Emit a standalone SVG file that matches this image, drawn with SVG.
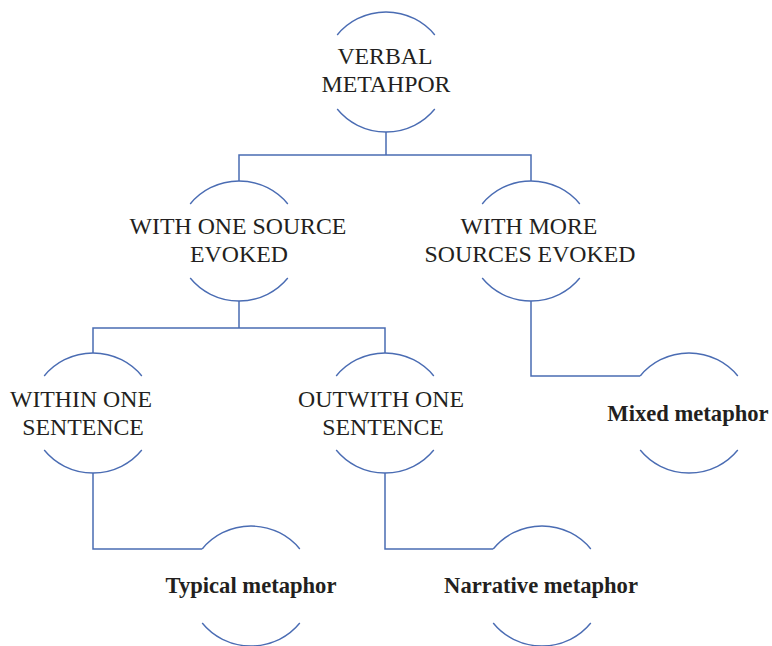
<svg xmlns="http://www.w3.org/2000/svg" width="772" height="646" viewBox="0 0 772 646">
<style>
.arc{fill:none;stroke:#4a6cb3;stroke-width:1.4}
.con{fill:none;stroke:#4a6cb3;stroke-width:1.5}
.t{font-family:"Liberation Serif",serif;font-size:23.8px;fill:#231f20;text-anchor:middle}
.b{font-family:"Liberation Serif",serif;font-size:22.6px;font-weight:bold;fill:#231f20;text-anchor:middle}
</style>
<rect width="772" height="646" fill="#ffffff"/>
<g id="connectors">
<path class="con" d="M386,132 V155 M239,181 V155 H531 V181"/>
<path class="con" d="M239,301 V328 M93,353 V328 H385 V353"/>
<path class="con" d="M93,473 V549 H202"/>
<path class="con" d="M385,473 V549 H493"/>
<path class="con" d="M531,301 V376 H640"/>
</g>
<g id="verbal-metaphor">
<path class="arc" d="M337.2,35 A62 60 0 0 1 434.8,35 M337.2,109 A62 60 0 0 0 434.8,109"/>
<text class="t" x="385" y="64">VERBAL</text>
<text class="t" x="386" y="92">METAHPOR</text>
</g>
<g id="one-source">
<path class="arc" d="M190.2,204 A62 60 0 0 1 287.8,204 M190.2,278 A62 60 0 0 0 287.8,278"/>
<text class="t" x="238" y="234">WITH ONE SOURCE</text>
<text class="t" x="239" y="262">EVOKED</text>
</g>
<g id="more-sources">
<path class="arc" d="M482.2,204 A62 60 0 0 1 579.8,204 M482.2,278 A62 60 0 0 0 579.8,278"/>
<text class="t" x="529" y="234">WITH MORE</text>
<text class="t" x="530" y="262">SOURCES EVOKED</text>
</g>
<g id="within-one-sentence">
<path class="arc" d="M44.2,376 A62 60 0 0 1 141.8,376 M44.2,450 A62 60 0 0 0 141.8,450"/>
<text class="t" x="81" y="407">WITHIN ONE</text>
<text class="t" x="83" y="435">SENTENCE</text>
</g>
<g id="outwith-one-sentence">
<path class="arc" d="M336.2,376 A62 60 0 0 1 433.8,376 M336.2,450 A62 60 0 0 0 433.8,450"/>
<text class="t" x="381" y="407">OUTWITH ONE</text>
<text class="t" x="383" y="435">SENTENCE</text>
</g>
<g id="mixed-metaphor">
<path class="arc" d="M640.2,376 A62 60 0 0 1 737.8,376 M640.2,450 A62 60 0 0 0 737.8,450"/>
<text class="b" x="688" y="421">Mixed metaphor</text>
</g>
<g id="typical-metaphor">
<path class="arc" d="M202.2,549 A62 60 0 0 1 299.8,549 M202.2,623 A62 60 0 0 0 299.8,623"/>
<text class="b" x="251" y="593">Typical metaphor</text>
</g>
<g id="narrative-metaphor">
<path class="arc" d="M493.2,549 A62 60 0 0 1 590.8,549 M493.2,623 A62 60 0 0 0 590.8,623"/>
<text class="b" x="541" y="593">Narrative metaphor</text>
</g>
</svg>
